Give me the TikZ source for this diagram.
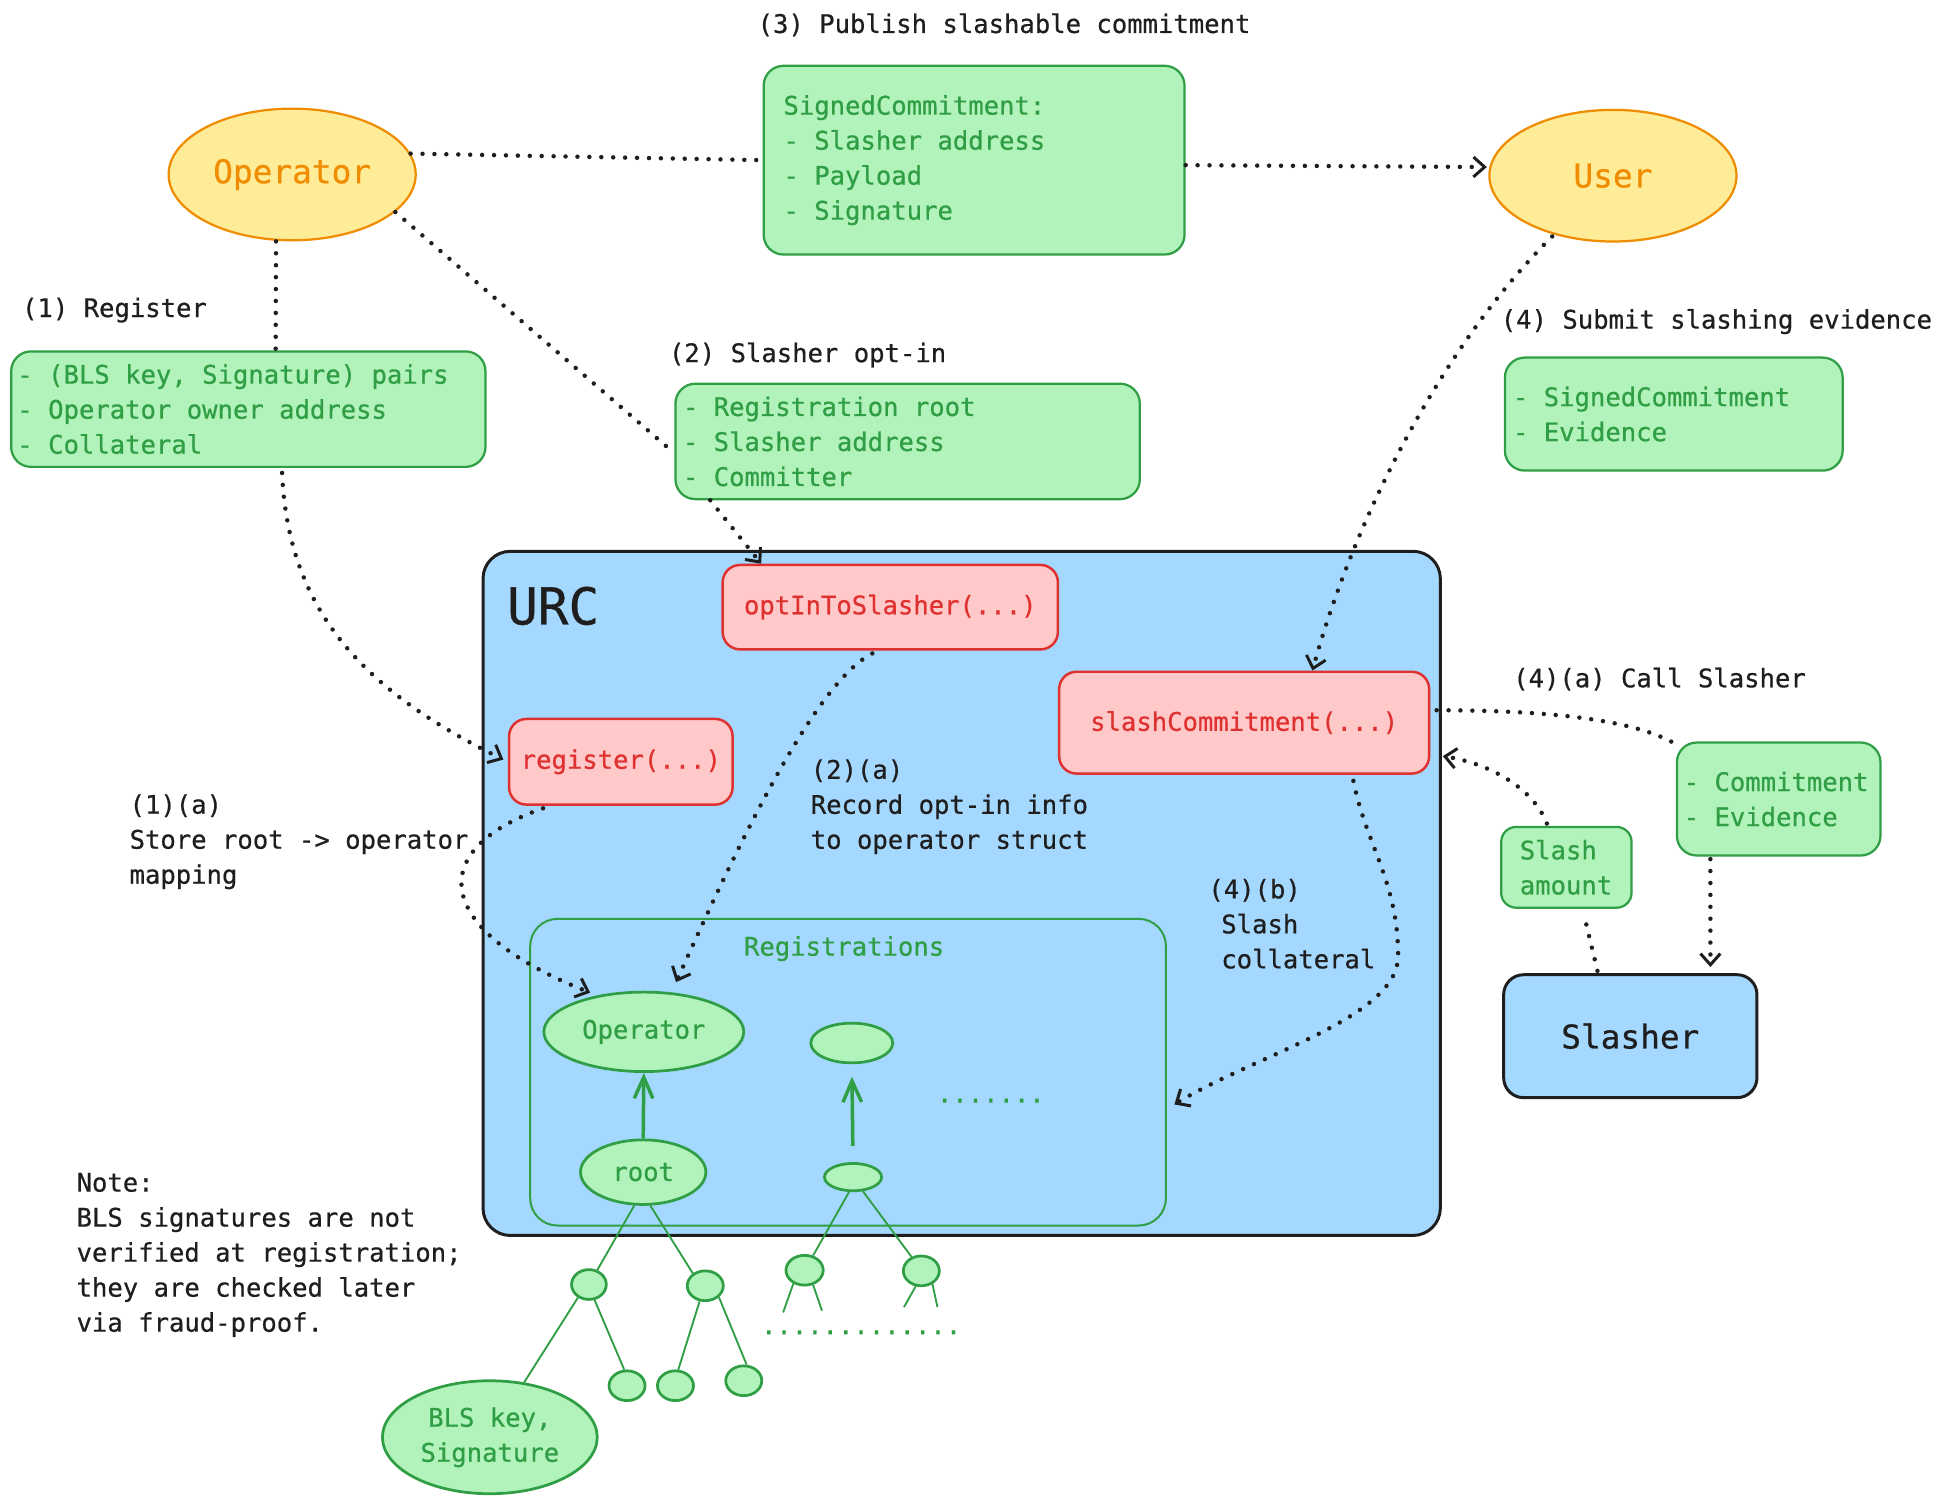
\documentclass[tikz,border=0pt]{standalone}
\usepackage{fontspec}
\setmonofont[FakeBold=0.6]{DejaVu Sans Mono}
\usetikzlibrary{shapes.geometric,arrows.meta}
\definecolor{ink}{HTML}{1E1E1E}
\definecolor{gstroke}{HTML}{2F9E44}
\definecolor{gfill}{HTML}{B2F2BB}
\definecolor{rstroke}{HTML}{E03131}
\definecolor{rfill}{HTML}{FFC9C9}
\definecolor{bfill}{HTML}{A5D8FF}
\definecolor{yfill}{HTML}{FFEC99}
\definecolor{ostroke}{HTML}{F08C00}
\newcommand\fsmall{\ttfamily\fontsize{20.6pt}{28.2pt}\selectfont}
\newcommand\fbig{\ttfamily\fontsize{26.4pt}{32pt}\selectfont}
\newcommand\furc{\ttfamily\fontsize{41pt}{48pt}\selectfont}
\newcommand\natsp{\spaceskip=0pt\xspaceskip=0pt\relax}
\begin{document}
\begin{tikzpicture}[x=1pt,y=-1pt,
  lbl/.style={font=\fsmall, text=ink, inner sep=0pt, align=left, anchor=west},
  gbox/.style={draw=gstroke, fill=gfill, line width=1.8pt, rounded corners=16pt, font=\fsmall, text=gstroke, align=flush left, inner ysep=0pt},
  fnbox/.style={draw=rstroke, fill=rfill, line width=2pt, rounded corners=14pt, font=\fsmall, text=rstroke, inner sep=0pt},
  yell/.style={ellipse, draw=ostroke, fill=yfill, line width=1.8pt, inner sep=0pt, minimum width=199pt, minimum height=106pt, font=\fbig, text=ostroke},
  gell/.style={ellipse, draw=gstroke, fill=gfill, line width=2.2pt, inner sep=0pt, font=\fsmall, text=gstroke},
  dotl/.style={draw=ink, line width=3.6pt, line cap=round, dash pattern=on 0pt off 9.6pt},
  dotarr/.style={dotl, -{Straight Barb[length=9pt,width=16pt,line width=2.4pt]}},
  garr/.style={draw=gstroke, line width=2.8pt, -{Straight Barb[length=17pt,width=15pt,line width=2.8pt]}},
  tree/.style={draw=gstroke, line width=1.5pt},
]
\useasboundingbox (0,0) rectangle (1560,1210.4);

% containers
\node[draw=ink, fill=bfill, line width=2.4pt, rounded corners=22pt, minimum width=771pt, minimum height=551pt, inner sep=0pt] (urc) at (774.5,719.5) {};
\node[font=\furc, text=ink, inner sep=0pt] (urclbl) at (445.5,488) {URC};
\node[draw=gstroke, line width=1.6pt, rounded corners=22pt, minimum width=512pt, minimum height=247pt, inner sep=0pt] (regs) at (683,863.5) {};
\node[lbl, text=gstroke] (regslbl) at (599,764) {Registrations};

% actors
\node[yell] (op) at (235.3,140.5) {Operator};
\node[yell] (user) at (1299,141.5) {User};

% top labels and boxes
\node[lbl] (l3) at (610,20) {(3) Publish slashable commitment};
\node[gbox, text width=307pt, inner xsep=16pt, minimum height=152pt] (sc) at (784.5,129) {\natsp SignedCommitment:\\- Slasher address\\- Payload\\- Signature};
\node[lbl] (l1) at (17.6,249.7) {(1) Register};
\node[gbox, text width=372pt, inner xsep=5pt, minimum height=93pt] (regbox) at (200,329.5) {\natsp - (BLS key, Signature) pairs\\- Operator owner address\\- Collateral};
\node[lbl] (l2) at (538.6,285.9) {(2) Slasher opt-in};
\node[gbox, text width=362pt, inner xsep=6pt, minimum height=93pt] (optbox) at (731,355.5) {\natsp - Registration root\\- Slasher address\\- Committer};
\node[lbl] (l4) at (1208.5,259) {(4) Submit slashing evidence};
\node[gbox, text width=259pt, inner xsep=6.5pt, minimum height=91pt] (subbox) at (1348,333.5) {\natsp - SignedCommitment\\- Evidence};

% functions
\node[fnbox, minimum width=270pt, minimum height=68pt] (optfn) at (717,489) {optInToSlasher(...)};
\node[fnbox, minimum width=180pt, minimum height=69pt] (regfn) at (500,613.5) {register(...)};
\node[fnbox, minimum width=298pt, minimum height=82pt] (sfn) at (1002,582) {slashCommitment(...)};

% step labels
\node[lbl] (l1a) at (104.2,677.9) {(1)(a)\\Store root -> operator\\mapping};
\node[lbl] (l2a) at (652.8,649.7) {(2)(a)\\Record opt-in info\\to operator struct};
\node[lbl] (l4b) at (973,744) {(4)(b)\\\hspace*{10.4pt}Slash\\\hspace*{10.4pt}collateral};
\node[lbl] (l4a) at (1218.5,547) {(4)(a) Call Slasher};

% right side
\node[gbox, text width=153pt, inner xsep=5.5pt, minimum height=91pt] (cbox) at (1432.5,643.5) {\natsp - Commitment\\- Evidence};
\node[gbox, text width=75pt, inner xsep=15pt, minimum height=65pt, rounded corners=12pt] (sabox) at (1261.5,698.5) {\natsp Slash\\amount};
\node[draw=ink, fill=bfill, line width=2.4pt, rounded corners=16pt, minimum width=204pt, minimum height=99pt, font=\fbig, text=ink, inner sep=0pt] (slasher) at (1313,834.5) {Slasher};

% registrations content
\node[gell, minimum width=161pt, minimum height=64pt] (iop) at (518.5,831) {Operator};
\node[gell, minimum width=66pt, minimum height=32pt] (e2) at (686,840) {};
\node[gell, minimum width=101pt, minimum height=52pt] (root) at (518,944) {root};
\node[gell, minimum width=46pt, minimum height=22pt] (e3) at (687,948) {};
\node[font=\fsmall, text=gstroke, inner sep=0pt, anchor=base] (dots7) at (798,888) {.......};

% tree
\node[gell, minimum width=28pt, minimum height=24pt] (na) at (474.3,1034.5) {};
\node[gell, minimum width=29pt, minimum height=24pt] (nb) at (568,1035.5) {};
\node[gell, minimum width=29pt, minimum height=24pt] (lf1) at (505,1116) {};
\node[gell, minimum width=29pt, minimum height=24pt] (lf2) at (544,1116) {};
\node[gell, minimum width=29pt, minimum height=24pt] (lf3) at (599,1112) {};
\node[gell, minimum width=173pt, minimum height=91pt, align=center] (bls) at (394.5,1157.5) {BLS key,\\Signature};
\node[gell, minimum width=30pt, minimum height=24pt] (nc) at (648,1023) {};
\node[gell, minimum width=29pt, minimum height=24pt] (nd) at (742,1023.5) {};
\node[font=\fsmall, text=gstroke, inner sep=0pt, anchor=base] (dots13) at (693.5,1074.5) {.............};
\coordinate (s1) at (630.7,1057);
\coordinate (s2) at (662,1055.5);
\coordinate (s3) at (728,1052.7);
\coordinate (s4) at (755,1052.7);

\node[lbl] (note) at (61.5,1010.7) {Note:\\BLS signatures are not\\verified at registration;\\they are checked later\\via fraud-proof.};

\draw[tree] (root.-105) -- (na.60);
\draw[tree] (root.-78) -- (nb.135);
\draw[tree] (na.-130) -- (bls.58);
\draw[tree] (na.-70) -- (lf1.100);
\draw[tree] (nb.-110) -- (lf2.80);
\draw[tree] (nb.-40) -- (lf3.80);
\draw[tree] (e3.-105) -- (nc.60);
\draw[tree] (e3.-55) -- (nd.125);
\draw[tree] (nc.-130) -- (s1);
\draw[tree] (nc.-60) -- (s2);
\draw[tree] (nd.-110) -- (s3);
\draw[tree] (nd.-50) -- (s4);

\draw[garr] (root.north) -- (iop.south);
\draw[garr, shorten <=13pt, shorten >=10pt] (e3.north) -- (e2.south);

% dotted connectors
\draw[dotl] (op.10) -- (sc.west);
\draw[dotarr, shorten >=2pt] ([yshift=-4pt]sc.east) -- (user.176);
\draw[dotl] ([xshift=-13pt]op.south) -- ([xshift=22pt]regbox.north);
\draw[dotl] (op.-20) -- ([yshift=-9.5pt]optbox.west);
\draw[dotarr] ([xshift=-159pt]optbox.south) -- ([xshift=-104pt]optfn.north);
\draw[dotarr, shorten <=4pt, shorten >=4pt] ([xshift=27pt]regbox.south) .. controls (232,490) and (290,555) .. (regfn.west);
\draw[dotarr, shorten <=6pt, shorten >=6pt] ([xshift=-57pt]regfn.south) .. controls (340,685) and (350,750) .. (iop.142);
\draw[dotarr, shorten <=5pt, shorten >=9pt] ([xshift=-10pt]optfn.south) .. controls (655,550) and (590,690) .. (iop.55);
\draw[dotarr, shorten <=2pt] (user.225) .. controls (1160,280) and (1090,420) .. ([xshift=55pt]sfn.north);
\draw[dotl, shorten <=5pt] ([yshift=10pt]sfn.east) .. controls (1250,572) and (1320,580) .. ([shift={(3pt,-4pt)}]cbox.north west);
\coordinate (k1) at ([xshift=-55pt,yshift=-2pt]cbox.south);
\draw[dotarr, shorten >=5pt] (k1) -- (k1 |- slasher.north);
\draw[dotl, shorten <=2pt, shorten >=5pt] ([xshift=-26pt]slasher.north) -- ([xshift=13pt]sabox.south);
\draw[dotarr, shorten <=2pt] ([xshift=-15pt]sabox.north) .. controls (1235,635) and (1200,615) .. ([shift={(10pt,-27pt)}]sfn.east);
\draw[dotarr, shorten <=5pt] ([xshift=87pt]sfn.south) .. controls (1100,680) and (1126,710) .. (1126,770) .. controls (1126,820) and (1010,850) .. ([shift={(6pt,-26pt)}]regs.east);
\end{tikzpicture}
\end{document}
